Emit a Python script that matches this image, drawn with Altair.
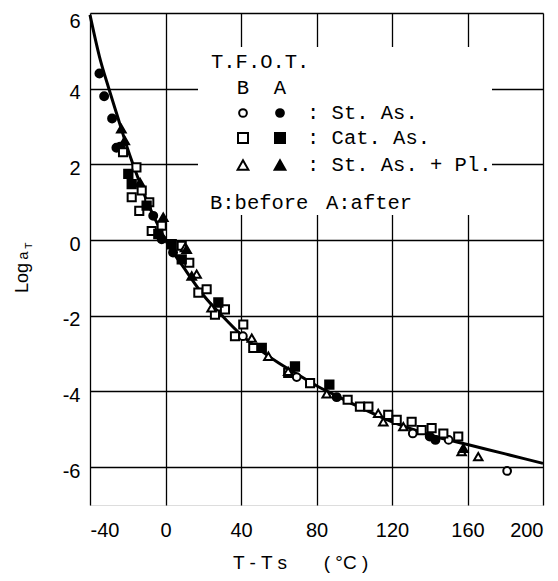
import altair as alt
import pandas as pd

# ---- data ----
curve_x = [-40, -35, -30, -25, -20, -15, -10, -5, 0, 10, 20, 30, 40, 50, 60, 70, 80, 90, 100, 120, 140, 160, 180, 200]
curve_y = [5.95, 4.85, 4.0, 3.2, 2.4, 1.7, 1.05, 0.5, 0.0, -0.75, -1.45, -2.0, -2.5, -2.9, -3.25, -3.55, -3.85, -4.1, -4.35, -4.8, -5.15, -5.4, -5.65, -5.9]

st_before_x = [41, 69.5, 131, 150, 181]
st_before_y = [-2.54, -3.62, -5.11, -5.28, -6.1]

st_after_x = [-35, -32.5, -28.3, -26, -24, -6.5, -2, 4, 90.7, 140, 143]
st_after_y = [4.40, 3.80, 3.21, 2.44, 2.47, 0.64, 0.02, -0.33, -4.15, -5.19, -5.28]

cat_before_x = [-22.5, -15.4, -12.6, -17.9, -8.6, -13.9, -2, -7.3, 8.6, 12.6, 17.4, 21.8, 31.5, 26.2,
                36.8, 41.2, 46.5, 65, 76.6, 96.5, 103, 107.5, 118, 122.5, 130.4, 135.7, 141, 147.2, 155.1]
cat_before_y = [2.32, 1.92, 1.31, 1.13, 1.0, 0.77, 0.38, 0.24, -0.15, -0.6, -1.39, -1.3, -1.83, -1.97,
                -2.54, -2.23, -2.85, -3.51, -3.78, -4.22, -4.4, -4.4, -4.62, -4.75, -4.80, -5.02, -4.97, -5.11, -5.19]

cat_after_x = [-19.7, -17.9, -10, -3.8, 3.3, 8.6, 28, 51, 68.6, 86.8]
cat_after_y = [1.75, 1.48, 0.91, 0.16, -0.11, -0.51, -1.65, -2.85, -3.34, -3.82]

pl_before_x = [10.3, 16.5, 24.4, 45.7, 54.5, 65, 85.4, 112.7, 115.4, 126, 156.9, 165.7]
pl_before_y = [-0.2, -0.9, -1.79, -2.59, -3.07, -3.47, -4.06, -4.58, -4.80, -4.93, -5.59, -5.72]

pl_after_x = [-23.4, -21.6, -13.5, -1.2, 11.2, 13.9, 157.8]
pl_after_y = [2.94, 2.63, 1.52, 0.6, -0.24, -0.95, -5.5]

x_ticks = [-40, 0, 40, 80, 120, 160, 200]
y_ticks = [-6, -4, -2, 0, 2, 4, 6]

series = [
    ("St. As. B", st_before_x, st_before_y),
    ("St. As. A", st_after_x, st_after_y),
    ("Cat. As. B", cat_before_x, cat_before_y),
    ("Cat. As. A", cat_after_x, cat_after_y),
    ("St. As. + Pl. B", pl_before_x, pl_before_y),
    ("St. As. + Pl. A", pl_after_x, pl_after_y),
]
names = [s[0] for s in series]
rows = []
for name, xs_, ys_ in series:
    for a, b in zip(xs_, ys_):
        rows.append({"x": a, "y": b, "s": name})
pts = pd.DataFrame(rows)
curve = pd.DataFrame({"x": curve_x, "y": curve_y})

W, H = 453, 492
LAB = "Liberation Sans"
MONO = "Liberation Mono"

xs = alt.Scale(domain=[-40, 200], nice=False, zero=False)
ys = alt.Scale(domain=[-7, 6], nice=False, zero=False)

xaxis = alt.Axis(values=x_ticks, grid=True, gridColor="black", gridWidth=1.3, gridOpacity=1,
                 ticks=False, domain=False, labelFont=LAB, labelFontSize=20, labelColor="black",
                 labelPadding=15, labelExpr="'' + datum.value", title=None)
yaxis = alt.Axis(values=y_ticks, grid=True, gridColor="black", gridWidth=1.3, gridOpacity=1,
                 ticks=False, domain=False, labelFont=LAB, labelFontSize=20, labelColor="black",
                 labelPadding=10, labelOffset={"expr": "datum.value == 6 ? 8 : 4"},
                 labelExpr="'' + datum.value", title=None)

one = pd.DataFrame({"k": [0]})

base = alt.Chart(curve).mark_line(color="black", strokeWidth=3, interpolate="monotone").encode(
    x=alt.X("x:Q", scale=xs, axis=xaxis),
    y=alt.Y("y:Q", scale=ys, axis=yaxis),
)

box = alt.Chart(one).mark_rect(fill="white").encode(
    x=alt.value(108), x2=alt.value(402), y=alt.value(34), y2=alt.value(202)
)

shape_rng = ["circle", "circle", "square", "square", "triangle-up", "triangle-up"]
fill_rng = ["white", "black", "white", "black", "white", "black"]
size_rng = [60, 75, 100, 100, 115, 115]

points = alt.Chart(pts).mark_point(filled=True, stroke="black", strokeWidth=2, opacity=1).encode(
    x=alt.X("x:Q", scale=xs),
    y=alt.Y("y:Q", scale=ys),
    shape=alt.Shape("s:N", scale=alt.Scale(domain=names, range=shape_rng), legend=None),
    fill=alt.Fill("s:N", scale=alt.Scale(domain=names, range=fill_rng), legend=None),
    size=alt.Size("s:N", scale=alt.Scale(domain=names, range=size_rng), legend=None),
)

layers = [box, base, points]

def txt(s, x, y, font=MONO, size=20.5, align="left", angle=None, baseline="middle"):
    kw = dict(font=font, fontSize=size, align=align, baseline=baseline, color="black")
    if angle is not None:
        kw["angle"] = angle
    return alt.Chart(one).mark_text(**kw).encode(x=alt.value(x), y=alt.value(y), text=alt.value(s))

def sym(shape, filled, x, y, size):
    return alt.Chart(one).mark_point(shape=shape, filled=True, fill="black" if filled else "white",
                                     stroke="black", strokeWidth=2, size=size, opacity=1).encode(
        x=alt.value(x), y=alt.value(y))

layers.append(txt("T.F.O.T.", 121, 49))
layers.append(txt("B", 153, 75, align="center"))
layers.append(txt("A", 190, 75, align="center"))
rows_leg = [("circle", 100, ": St. As.", 60), ("square", 125, ": Cat. As.", 100),
            ("triangle-up", 152, ": St. As. + Pl.", 115)]
for shp, yy, label, sz in rows_leg:
    layers.append(sym(shp, False, 153, yy, sz))
    layers.append(sym(shp, True, 190, yy, sz))
    layers.append(txt(label, 217, yy))
layers.append(txt("B:before", 120, 190))
layers.append(txt("A:after", 236, 190))

# axis titles
layers.append(txt("T - T s", 170, 550, font=LAB, size=19, align="center"))
layers.append(txt("( °C )", 256, 550, font=LAB, size=19, align="center"))
layers.append(txt("Log", -62, 280, font=LAB, size=18, align="left", angle=270, baseline="alphabetic"))
layers.append(txt("a", -62, 247, font=MONO, size=15, align="left", angle=270, baseline="alphabetic"))
layers.append(txt("T", -58, 236, font=MONO, size=11, align="left", angle=270, baseline="alphabetic"))

chart = alt.layer(*layers).properties(
    width=W, height=H,
    autosize=alt.AutoSizeParams(type="none"),
    padding={"left": 82, "top": 5, "right": 7, "bottom": 68},
).configure_view(stroke="black", strokeWidth=3).configure(background="white")

chart.save("out.html", embed_options={"renderer": "svg", "actions": False})
